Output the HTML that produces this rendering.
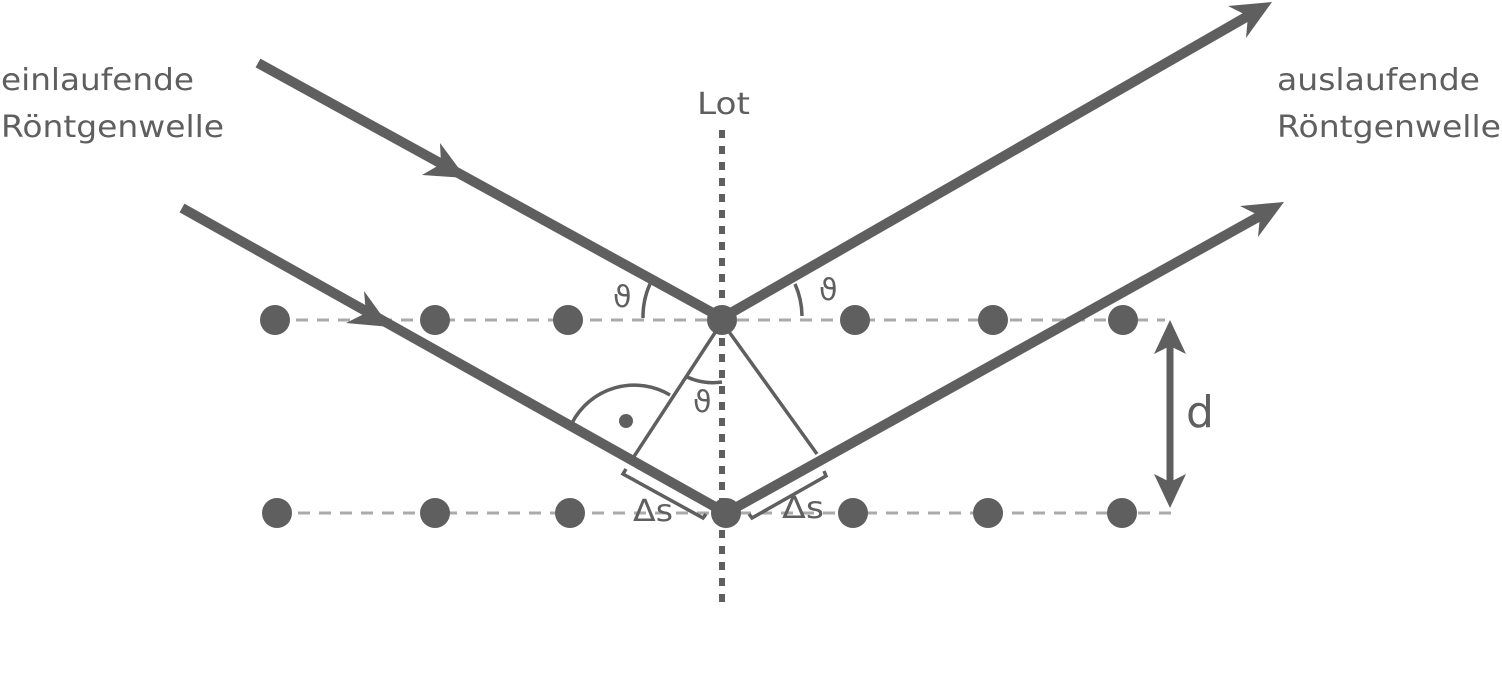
<!DOCTYPE html>
<html><head><meta charset="utf-8"><style>
html,body{margin:0;padding:0;background:#fff;}
svg{display:block;}
text{font-family:"DejaVu Sans","Liberation Sans",sans-serif;fill:#5f5f5f;}
</style></head><body>
<svg width="1502" height="692" viewBox="0 0 1502 692" xmlns="http://www.w3.org/2000/svg">
<g stroke="#aaa" stroke-width="3" stroke-dasharray="12,9">
<line x1="275" y1="320" x2="1165" y2="320"/>
<line x1="277" y1="513" x2="1175" y2="513"/>
</g>
<line x1="722" y1="130" x2="722" y2="602" stroke="#5f5f5f" stroke-width="6" stroke-dasharray="8,8"/>
<g fill="#5f5f5f">
<circle cx="275" cy="320" r="15"/><circle cx="435" cy="320" r="15"/><circle cx="568" cy="320" r="15"/><circle cx="722" cy="320" r="15"/><circle cx="855" cy="320" r="15"/><circle cx="993" cy="320" r="15"/><circle cx="1123" cy="320" r="15"/>
<circle cx="277" cy="513" r="15"/><circle cx="435" cy="513" r="15"/><circle cx="570" cy="513" r="15"/><circle cx="726" cy="513" r="15"/><circle cx="853" cy="513" r="15"/><circle cx="988" cy="513" r="15"/><circle cx="1122" cy="513" r="15"/>
</g>
<g stroke="#5f5f5f" stroke-width="10" fill="none" stroke-linecap="butt">
<line x1="258" y1="63" x2="722" y2="318"/>
<line x1="182" y1="208" x2="726" y2="513"/>
<line x1="722" y1="318" x2="1248" y2="16"/>
<line x1="726" y1="513" x2="1260" y2="216"/>
</g>
<g fill="#5f5f5f">
<polygon points="466,178 422,175 441,164 440,143"/>
<polygon points="390,327 346,323 366,313 364,291"/>
<polygon points="1272,2 1246,38 1248,16 1228,6"/>
<polygon points="1284,202 1258,237 1260,216 1240,206"/>
</g>
<line x1="1170" y1="345" x2="1170" y2="485" stroke="#5f5f5f" stroke-width="7"/>
<polygon points="1170,320 1186,354 1170,346 1154,354" fill="#5f5f5f"/>
<polygon points="1170,508 1186,474 1170,482 1154,474" fill="#5f5f5f"/>
<g stroke="#5f5f5f" stroke-width="3.5" fill="none">
<line x1="722" y1="322" x2="633" y2="458"/>
<line x1="722" y1="322" x2="817" y2="454"/>
<path d="M643,318 A80,80 0 0 1 650,284"/>
<path d="M802,316 A80,80 0 0 0 795,284"/>
<path d="M687,377 A62,62 0 0 0 722,382"/>
<path d="M572,423 A70,70 0 0 1 670,395"/>
<polyline points="626,469 623,474 703,518 706,514"/>
<polyline points="749,514 752,518 826,476 824,471"/>
</g>
<circle cx="626" cy="421" r="7" fill="#5f5f5f"/>
<text x="613" y="307" font-size="30">ϑ</text>
<text x="819" y="300" font-size="30">ϑ</text>
<text x="693" y="412" font-size="30">ϑ</text>
<text x="633" y="521" font-size="30" textLength="40" lengthAdjust="spacingAndGlyphs">Δs</text>
<text x="782" y="518" font-size="30" textLength="42" lengthAdjust="spacingAndGlyphs">Δs</text>
<text x="1186" y="427" font-size="44">d</text>
<text x="697" y="114" font-size="30" textLength="53" lengthAdjust="spacingAndGlyphs">Lot</text>
<text x="1" y="90" font-size="30" textLength="193" lengthAdjust="spacingAndGlyphs">einlaufende</text>
<text x="1" y="137" font-size="30" textLength="223" lengthAdjust="spacingAndGlyphs">Röntgenwelle</text>
<text x="1277" y="90" font-size="30" textLength="203" lengthAdjust="spacingAndGlyphs">auslaufende</text>
<text x="1277" y="137" font-size="30" textLength="224" lengthAdjust="spacingAndGlyphs">Röntgenwelle</text>
</svg>
</body></html>
